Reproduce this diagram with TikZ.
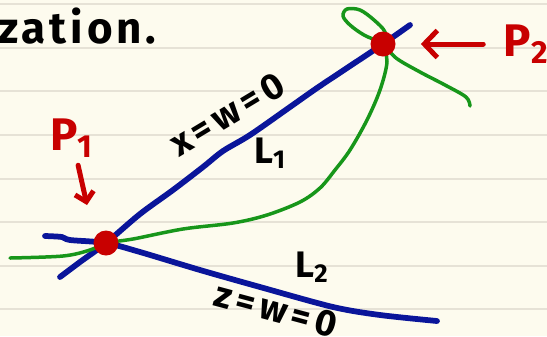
\documentclass[tikz,border=0pt]{standalone}
\usepackage{fontspec}
\setmainfont{Fira Sans}
\usetikzlibrary{arrows.meta}
\definecolor{paper}{HTML}{FDFBEE}
\definecolor{ruleline}{HTML}{E6E2D6}
\definecolor{inkblue}{HTML}{0A159A}
\definecolor{inkgreen}{HTML}{17961A}
\definecolor{inkred}{HTML}{C80000}

\begin{document}
\begin{tikzpicture}[x=0.02cm,y=-0.02cm,line cap=round,line join=round,
  dot/.style={circle,fill=inkred,inner sep=0pt,minimum size=0.5cm},
  ink/.style={inner sep=0pt,font=\fontsize{21}{24}\selectfont\bfseries},
  wide/.style={font=\fontsize{21}{24}\selectfont\bfseries\addfontfeatures{LetterSpace=14}},
  redink/.style={inner sep=0pt,text=inkred,font=\fontsize{26}{30}\selectfont\bfseries},
  blueline/.style={draw=inkblue,line width=1.15mm},
  greenline/.style={draw=inkgreen,line width=0.7mm},
  redarrow/.style={draw=inkred,line width=1mm}]
% paper
\fill[paper] (0,0) rectangle (547,336);
\useasboundingbox (0,0) rectangle (547,336);
\foreach \ry in {4,48,91,135,179,222,266,309}
  \draw[ruleline,line width=0.9pt] (0,\ry) -- (547,\ry);
% heading fragment
\node[ink,anchor=west,font=\fontsize{25}{28}\selectfont\bfseries\addfontfeatures{LetterSpace=9}] (head) at (-2,26) {zation.};
% intersection points
\coordinate (P1) at (106,243);
\coordinate (P2) at (383,44);
% line L1
\coordinate (l1a) at (60,277);
\coordinate (l1b) at (410,25);
\draw[blueline] plot[smooth,tension=0.5] coordinates {(l1a) (80,262) (P1) (140,214)
  (173,190) (203,167) (223,151) (250,135) (290,107) (317,88) (347,68) (P2) (l1b)};
% line L2
\coordinate (l2a) at (45,236);
\coordinate (l2b) at (437,321);
\draw[blueline] plot[smooth,tension=0.5] coordinates {(l2a) (62,237) (70,240) (P1)
  (140,252) (200,270) (260,287) (333,307) (380,315) (l2b)};
% curve through P1 and P2
\coordinate (ca) at (10,258);
\coordinate (cb) at (470,106);
\draw[greenline] plot[smooth,tension=0.55] coordinates {(ca) (63,256) (90,250) (P1)
  (133,239) (183,229) (233,223) (267,215) (300,202) (320,188) (335,170) (350,150)
  (367,120) (380,90) (387,62) (P2) (385,32) (374,20) (360,10) (347,9) (343,16)
  (350,25) (364,35) (P2) (396,58) (420,72) (445,85) (466,97) (cb)};
% points
\node[dot] (p1) at (P1) {};
\node[dot] (p2) at (P2) {};
% labels
\node[ink,wide,rotate=31] (eq1) at (227,114) {x=w=0};
\node[ink] (lone) at (270,153) {L\textsubscript{1}};
\node[ink] (ltwo) at (312,267) {L\textsubscript{2}};
\node[ink,wide,rotate=-15] (eq2) at (276,310) {z=w=0};
\node[redink] (p1lab) at (72,138) {P\textsubscript{1}};
\node[redink] (p2lab) at (526,44) {P\textsubscript{2}};
% pointers
\coordinate (p1tip) at (87,205);
\draw[redarrow,-{Straight Barb[length=1.8mm,width=3.8mm]},shorten <=0.16cm] (p1lab) -- (p1tip);
\draw[redarrow,-{Straight Barb[length=2.6mm,width=5.4mm]},shorten <=0.4cm,shorten >=0.5cm] (p2lab) -- (p2);
\end{tikzpicture}
\end{document}
